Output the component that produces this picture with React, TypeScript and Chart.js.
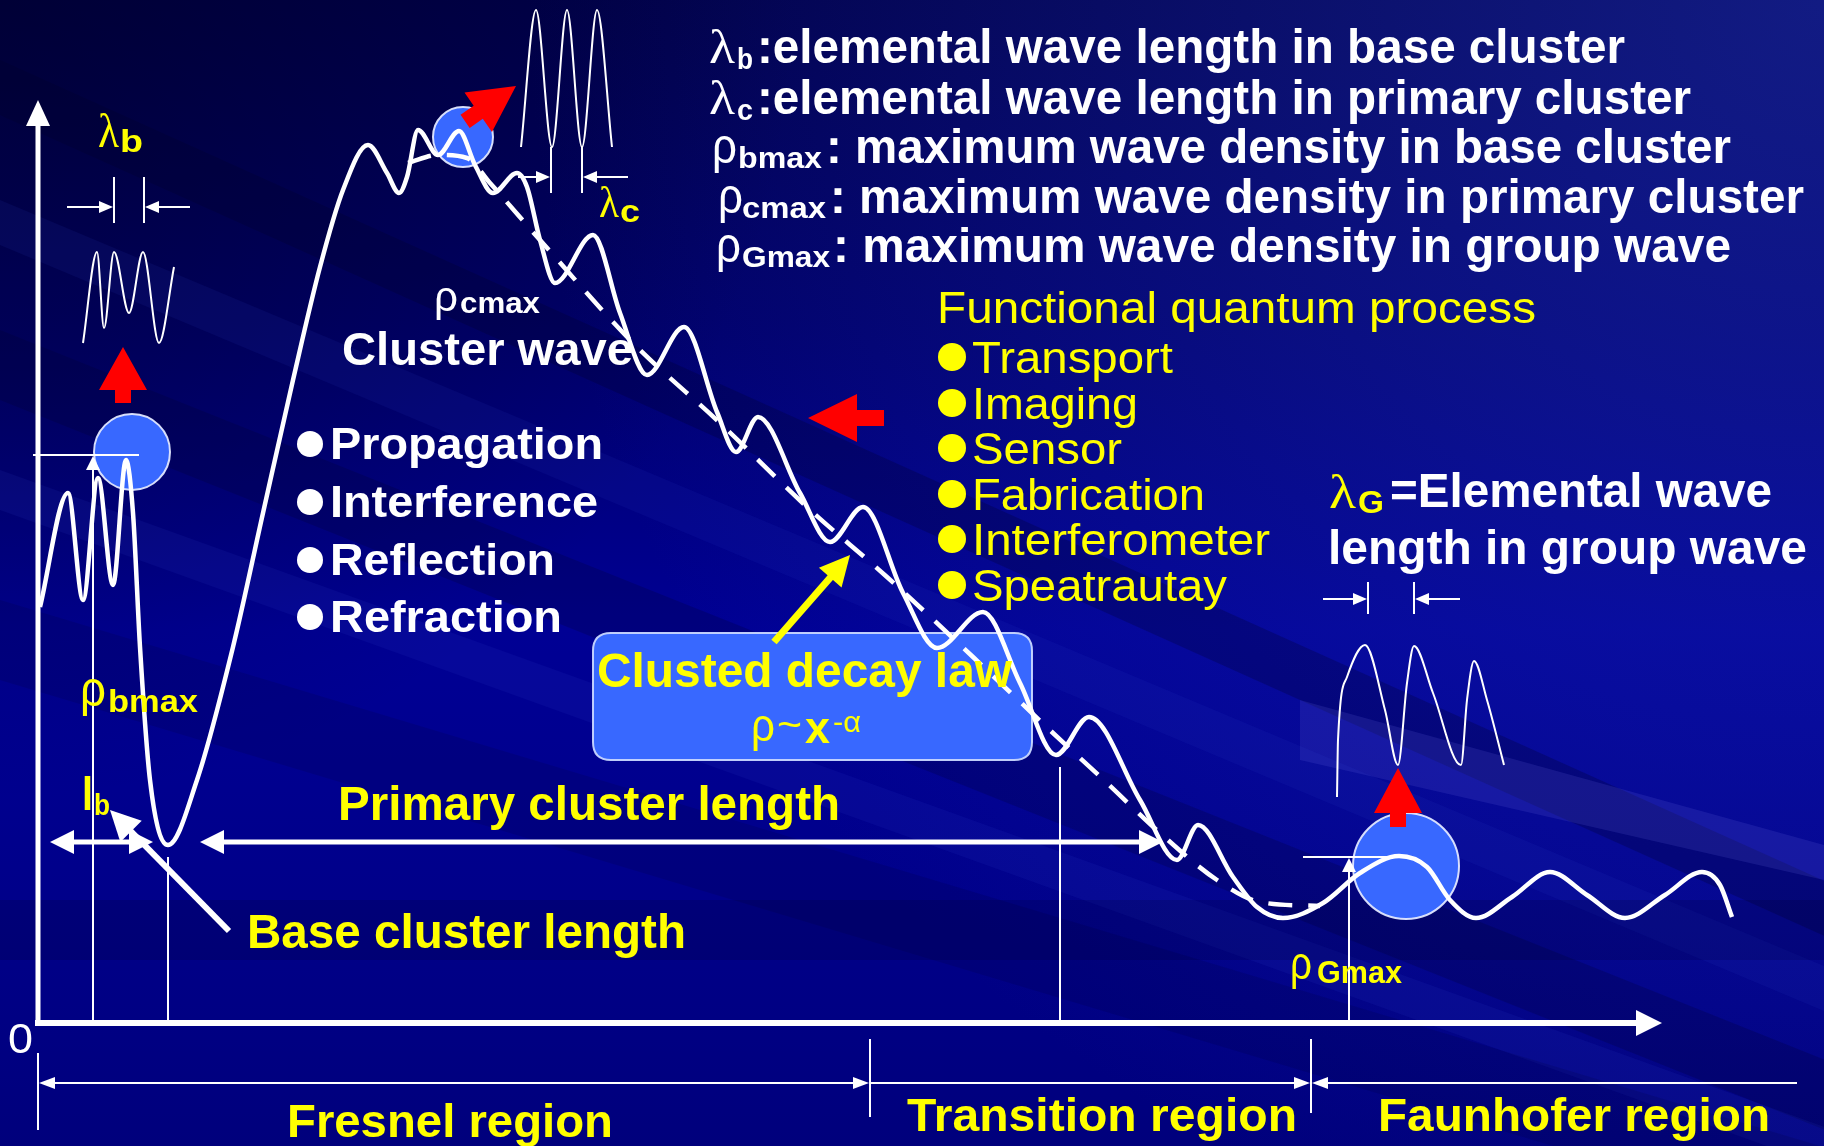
import React, { useEffect, useRef } from "react";
import { Chart, registerables } from "chart.js";

Chart.register(...registerables);

// ---- data (distance from origin, wave density) ----
const curveDistance = [2, 30, 45, 60, 75, 88, 95, 102, 112, 130, 159, 195, 225, 255, 282, 305, 330, 349, 361, 369, 380, 400, 421, 437, 455, 479, 489, 502, 517, 555, 582, 609, 646, 679, 698, 720, 762, 792, 825, 865, 899, 945, 982, 1018, 1051, 1102, 1139, 1160, 1195, 1219, 1245, 1285, 1322, 1361, 1389, 1412, 1438, 1474, 1512, 1549, 1587, 1627, 1664, 1682, 1694];
const curveDensity = [416, 530, 423, 545, 438, 563, 510, 376, 243, 178, 243, 376, 510, 643, 756, 833, 878, 850, 830, 846, 893, 868, 892, 858, 830, 850, 836, 783, 740, 788, 710, 648, 696, 611, 571, 606, 530, 481, 516, 430, 375, 411, 340, 268, 306, 223, 163, 198, 146, 116, 105, 120, 150, 167, 156, 123, 105, 126, 151, 128, 105, 128, 151, 138, 106];

const decayDistance = [370, 400, 429, 452, 502, 595, 682, 769, 849, 935, 1015, 1069, 1122, 1179, 1222, 1282];
const decayDensity = [860, 868, 865, 840, 783, 680, 600, 516, 446, 366, 290, 240, 190, 143, 121, 117];

const baseWaveX = [45, 59, 66, 76, 91, 105, 121, 136];
const baseWaveY = [680, 771, 695, 771, 710, 771, 680, 756];

const clusterWaveX = [483, 498, 514, 529, 544, 559, 574];
const clusterWaveY = [876, 1013, 876, 1013, 876, 1013, 876];

const groupWaveX = [1299, 1300, 1309, 1327, 1347, 1360, 1369, 1376, 1395, 1423, 1429, 1436, 1449, 1466];
const groupWaveY = [226, 283, 346, 378, 313, 258, 340, 377, 330, 258, 323, 362, 323, 258];

const processItems = ["Transport", "Imaging", "Sensor", "Fabrication", "Interferometer", "Speatrautay"];
const phenomena = ["Propagation", "Interference", "Reflection", "Refraction"];
const regionLabels = ["Fresnel region", "Transition region", "Faunhofer region"];

const zip = (xs: number[], ys: number[]) => xs.map((x, i) => ({ x, y: ys[i] }));

const SANS = '"Liberation Sans", Arial, Helvetica, sans-serif';
const SERIF = '"Liberation Serif", "Times New Roman", serif';
const WHITE = "#ffffff";
const YELLOW = "#ffff00";
const RED = "#ff0000";
const BLUE = "#3868ff";

// reference origin of the axes on the page (used to place annotations)
const OX = 38;
const OY = 1023;

const decorPlugin = {
  id: "decor",
  beforeDraw(chart: any) {
    const ctx = chart.ctx as CanvasRenderingContext2D;
    const W = chart.width, H = chart.height;
    ctx.save();
    const g = ctx.createLinearGradient(0, 0, 0, H);
    g.addColorStop(0, "#00004a");
    g.addColorStop(0.28, "#00006a");
    g.addColorStop(0.55, "#000094");
    g.addColorStop(0.78, "#00008a");
    g.addColorStop(1, "#00007c");
    ctx.fillStyle = g;
    ctx.fillRect(0, 0, W, H);
    const r1 = ctx.createRadialGradient(W, 0, 0, W, 0, 1300);
    r1.addColorStop(0, "rgba(40,60,200,0.45)");
    r1.addColorStop(1, "rgba(40,60,200,0)");
    ctx.fillStyle = r1;
    ctx.fillRect(0, 0, W, H);
    const r2 = ctx.createRadialGradient(0, 0, 0, 0, 0, 800);
    r2.addColorStop(0, "rgba(0,0,30,0.45)");
    r2.addColorStop(1, "rgba(0,0,30,0)");
    ctx.fillStyle = r2;
    ctx.fillRect(0, 0, W, H);
    const streaks: [number, number, number, string][] = [
      [60, 0.45, 55, "rgba(0,0,40,0.25)"],
      [200, 0.42, 45, "rgba(50,70,210,0.10)"],
      [330, 0.4, 70, "rgba(0,0,45,0.22)"],
      [470, 0.36, 40, "rgba(60,80,220,0.10)"],
      [600, 0.3, 80, "rgba(0,0,40,0.14)"],
      [900, 0.0, 60, "rgba(0,0,40,0.18)"],
    ];
    for (const [y0, s, t, c] of streaks) {
      ctx.fillStyle = c;
      ctx.beginPath();
      ctx.moveTo(0, y0);
      ctx.lineTo(W, y0 + W * s);
      ctx.lineTo(W, y0 + W * s + t);
      ctx.lineTo(0, y0 + t);
      ctx.closePath();
      ctx.fill();
    }
    ctx.fillStyle = "rgba(110,110,230,0.16)";
    ctx.beginPath();
    ctx.moveTo(1300, 700);
    ctx.lineTo(W, 845);
    ctx.lineTo(W, 880);
    ctx.lineTo(1300, 760);
    ctx.closePath();
    ctx.fill();
    ctx.restore();
  },
  beforeDatasetsDraw(chart: any) {
    const ctx = chart.ctx as CanvasRenderingContext2D;
    const xs = chart.scales.x, ys = chart.scales.y;
    const P = (px: number, py: number) => [xs.getPixelForValue(px - OX), ys.getPixelForValue(OY - py)];
    const L = (w: number) => xs.getPixelForValue(w) - xs.getPixelForValue(0);
    ctx.save();
    const circles: [number, number, number][] = [[132, 452, 38], [463, 137, 30], [1406, 866, 53]];
    for (const [cx, cy, r] of circles) {
      const [x, y] = P(cx, cy);
      ctx.beginPath();
      ctx.arc(x, y, L(r), 0, Math.PI * 2);
      ctx.fillStyle = BLUE;
      ctx.fill();
      ctx.lineWidth = 2;
      ctx.strokeStyle = "rgba(225,232,255,0.95)";
      ctx.stroke();
    }
    const [bx, by] = P(593, 633);
    const [bx2, by2] = P(1032, 760);
    const rr = 18;
    ctx.beginPath();
    ctx.moveTo(bx + rr, by);
    ctx.lineTo(bx2 - rr, by);
    ctx.quadraticCurveTo(bx2, by, bx2, by + rr);
    ctx.lineTo(bx2, by2 - rr);
    ctx.quadraticCurveTo(bx2, by2, bx2 - rr, by2);
    ctx.lineTo(bx + rr, by2);
    ctx.quadraticCurveTo(bx, by2, bx, by2 - rr);
    ctx.lineTo(bx, by + rr);
    ctx.quadraticCurveTo(bx, by, bx + rr, by);
    ctx.closePath();
    ctx.fillStyle = BLUE;
    ctx.fill();
    ctx.lineWidth = 2;
    ctx.strokeStyle = "rgba(200,215,255,0.95)";
    ctx.stroke();

    const line = (x1: number, y1: number, x2: number, y2: number, lw: number, color = WHITE) => {
      const [a, b] = P(x1, y1), [c, d] = P(x2, y2);
      ctx.beginPath();
      ctx.moveTo(a, b);
      ctx.lineTo(c, d);
      ctx.lineWidth = lw;
      ctx.strokeStyle = color;
      ctx.lineCap = "butt";
      ctx.stroke();
    };
    const tri = (tx: number, ty: number, dx: number, dy: number, len: number, half: number, color = WHITE) => {
      const [x, y] = P(tx, ty);
      const n = Math.hypot(dx, dy);
      const ux = dx / n, uy = dy / n;
      const bxp = x - ux * len, byp = y - uy * len;
      ctx.beginPath();
      ctx.moveTo(x, y);
      ctx.lineTo(bxp - uy * half, byp + ux * half);
      ctx.lineTo(bxp + uy * half, byp - ux * half);
      ctx.closePath();
      ctx.fillStyle = color;
      ctx.fill();
    };
    line(38, 1026, 38, 120, 5);
    tri(38, 100, 0, -1, 26, 12);
    line(35, 1023, 1640, 1023, 6);
    tri(1662, 1023, 1, 0, 26, 13);
    line(33, 455, 139, 455, 2);
    line(93, 1021, 93, 468, 2);
    tri(93, 456, 0, -1, 14, 7);
    line(168, 857, 168, 1021, 2);
    line(1060, 767, 1060, 1021, 2);
    line(1303, 857, 1398, 857, 2);
    line(1349, 1021, 1349, 870, 2);
    tri(1349, 858, 0, -1, 14, 7);
    ctx.restore();
  },
  afterDatasetsDraw(chart: any) {
    const ctx = chart.ctx as CanvasRenderingContext2D;
    const xs = chart.scales.x, ys = chart.scales.y;
    const P = (px: number, py: number) => [xs.getPixelForValue(px - OX), ys.getPixelForValue(OY - py)];
    const L = (w: number) => xs.getPixelForValue(w) - xs.getPixelForValue(0);
    ctx.save();
    const T = (s: string, x: number, y: number, size: number, color: string, bold: boolean, width?: number, family = SANS) => {
      const [cx, cy] = P(x, y);
      ctx.save();
      ctx.font = `${bold ? "bold " : ""}${size}px ${family}`;
      ctx.fillStyle = color;
      ctx.textAlign = "left";
      ctx.textBaseline = "alphabetic";
      ctx.translate(cx, cy);
      if (width) {
        const m = ctx.measureText(s).width;
        if (m > 0) ctx.scale(L(width) / m, 1);
      }
      ctx.fillText(s, 0, 0);
      ctx.restore();
    };
    const dot = (x: number, y: number, r: number, color: string) => {
      const [cx, cy] = P(x, y);
      ctx.beginPath();
      ctx.arc(cx, cy, L(r), 0, Math.PI * 2);
      ctx.fillStyle = color;
      ctx.fill();
    };
    const line = (x1: number, y1: number, x2: number, y2: number, lw: number, color = WHITE) => {
      const [a, b] = P(x1, y1), [c, d] = P(x2, y2);
      ctx.beginPath();
      ctx.moveTo(a, b);
      ctx.lineTo(c, d);
      ctx.lineWidth = lw;
      ctx.strokeStyle = color;
      ctx.lineCap = "butt";
      ctx.stroke();
    };
    const arrow = (x1: number, y1: number, x2: number, y2: number, lw: number, len: number, half: number, color: string, hs: boolean, he: boolean) => {
      const [a, b] = P(x1, y1), [c, d] = P(x2, y2);
      const n = Math.hypot(c - a, d - b);
      const ux = (c - a) / n, uy = (d - b) / n;
      const sa = hs ? len * 0.8 : 0, ea = he ? len * 0.8 : 0;
      ctx.beginPath();
      ctx.moveTo(a + ux * sa, b + uy * sa);
      ctx.lineTo(c - ux * ea, d - uy * ea);
      ctx.lineWidth = lw;
      ctx.strokeStyle = color;
      ctx.stroke();
      const head = (tx: number, ty: number, vx: number, vy: number) => {
        const bxp = tx - vx * len, byp = ty - vy * len;
        ctx.beginPath();
        ctx.moveTo(tx, ty);
        ctx.lineTo(bxp - vy * half, byp + vx * half);
        ctx.lineTo(bxp + vy * half, byp - vx * half);
        ctx.closePath();
        ctx.fillStyle = color;
        ctx.fill();
      };
      if (he) head(c, d, ux, uy);
      if (hs) head(a, b, -ux, -uy);
    };
    const block = (tx: number, ty: number, dx: number, dy: number, hl: number, hh: number, sl: number, sh: number, color: string) => {
      const [x, y] = P(tx, ty);
      const n = Math.hypot(dx, dy);
      const ux = dx / n, uy = dy / n;
      const nx = -uy, ny = ux;
      const bx = x - ux * hl, by = y - uy * hl;
      ctx.beginPath();
      ctx.moveTo(x, y);
      ctx.lineTo(bx + nx * hh, by + ny * hh);
      ctx.lineTo(bx + nx * sh, by + ny * sh);
      ctx.lineTo(bx + nx * sh - ux * sl, by + ny * sh - uy * sl);
      ctx.lineTo(bx - nx * sh - ux * sl, by - ny * sh - uy * sl);
      ctx.lineTo(bx - nx * sh, by - ny * sh);
      ctx.lineTo(bx - nx * hh, by - ny * hh);
      ctx.closePath();
      ctx.fillStyle = color;
      ctx.fill();
    };

    // ---- top right legend ----
    T("λ", 709, 63, 48, WHITE, false, 26, SERIF);
    T("b", 737, 69, 30, WHITE, true, 16);
    T(":elemental wave length in base cluster", 757, 63, 48, WHITE, true, 868);
    T("λ", 709, 114, 48, WHITE, false, 26, SERIF);
    T("c", 737, 120, 30, WHITE, true, 16);
    T(":elemental wave length in primary cluster", 757, 114, 48, WHITE, true, 934);
    T("ρ", 712, 163, 50, WHITE, false, 25);
    T("bmax", 738, 168, 29, WHITE, true, 84);
    T(": maximum wave density in base cluster", 826, 163, 48, WHITE, true, 905);
    T("ρ", 718, 213, 50, WHITE, false, 25);
    T("cmax", 742, 218, 29, WHITE, true, 84);
    T(": maximum wave density in primary cluster", 830, 213, 48, WHITE, true, 974);
    T("ρ", 716, 262, 50, WHITE, false, 25);
    T("Gmax", 742, 267, 29, WHITE, true, 88);
    T(": maximum wave density in group wave", 833, 262, 48, WHITE, true, 898);

    // ---- functional quantum process ----
    T("Functional quantum process", 937, 323, 45, YELLOW, false, 599);
    const procBase = [373, 419, 464, 510, 555, 601];
    const procEnd = [1173, 1138, 1122, 1205, 1270, 1227];
    processItems.forEach((s, i) => {
      dot(952, procBase[i] - 16, 14, YELLOW);
      T(s, 972, procBase[i], 45, YELLOW, false, procEnd[i] - 972);
    });

    // ---- phenomena ----
    const phBase = [459, 517, 575, 632];
    const phEnd = [603, 598, 555, 562];
    phenomena.forEach((s, i) => {
      dot(310, phBase[i] - 15, 13, WHITE);
      T(s, 330, phBase[i], 44, WHITE, true, phEnd[i] - 330);
    });

    // ---- cluster wave label ----
    T("ρ", 434, 311, 42, WHITE, false, 24);
    T("cmax", 460, 313, 30, WHITE, true, 80);
    T("Cluster wave", 342, 365, 46, WHITE, true, 291);

    // ---- lambda labels ----
    T("λ", 98, 147, 48, YELLOW, false, 21, SERIF);
    T("b", 120, 152, 31, YELLOW, true, 23);
    T("λ", 599, 217, 44, YELLOW, false, 20, SERIF);
    T("c", 620, 222, 31, YELLOW, true, 20);

    // ---- rho b max, l b ----
    T("ρ", 80, 706, 50, YELLOW, false, 26);
    T("bmax", 108, 712, 31, YELLOW, true, 90);
    T("l", 82, 810, 46, YELLOW, true, 11);
    T("b", 94, 815, 29, YELLOW, true, 16);

    // ---- lengths ----
    T("Primary cluster length", 338, 820, 48, YELLOW, true, 502);
    T("Base cluster length", 247, 948, 48, YELLOW, true, 439);

    // ---- decay law box text ----
    T("Clusted decay law", 597, 687, 48, YELLOW, true, 415);
    T("ρ", 751, 741, 46, YELLOW, false, 24);
    T("~", 777, 738, 40, YELLOW, false, 25);
    T("x", 805, 743, 44, YELLOW, true, 25);
    T("-α", 833, 732, 30, YELLOW, false, 28);

    // ---- group wave labels ----
    T("λ", 1329, 508, 48, YELLOW, false, 27, SERIF);
    T("G", 1358, 513, 31, YELLOW, true, 26);
    T("=Elemental wave", 1390, 507, 48, WHITE, true, 382);
    T("length in group wave", 1328, 564, 48, WHITE, true, 479);
    T("ρ", 1290, 979, 46, YELLOW, false, 22);
    T("Gmax", 1317, 983, 31, YELLOW, true, 85);

    // ---- origin ----
    T("0", 8, 1053, 43, WHITE, false, 25);

    // ---- region labels ----
    T(regionLabels[0], 287, 1137, 47, YELLOW, true, 326);
    T(regionLabels[1], 907, 1131, 47, YELLOW, true, 390);
    T(regionLabels[2], 1378, 1131, 47, YELLOW, true, 392);

    // ---- dimension markers (thin) ----
    line(114, 177, 114, 223, 2);
    line(144, 177, 144, 223, 2);
    arrow(67, 207, 113, 207, 2, 14, 6, WHITE, false, true);
    arrow(190, 207, 145, 207, 2, 14, 6, WHITE, false, true);
    line(551, 147, 551, 193, 2);
    line(582, 147, 582, 193, 2);
    arrow(518, 177, 550, 177, 2, 14, 6, WHITE, false, true);
    arrow(628, 177, 583, 177, 2, 14, 6, WHITE, false, true);
    line(1368, 582, 1368, 614, 2);
    line(1414, 582, 1414, 614, 2);
    arrow(1323, 599, 1367, 599, 2, 14, 6, WHITE, false, true);
    arrow(1460, 599, 1415, 599, 2, 14, 6, WHITE, false, true);

    // ---- region markers ----
    line(38, 1053, 38, 1130, 2);
    line(870, 1039, 870, 1117, 2);
    line(1311, 1039, 1311, 1113, 2);
    arrow(39, 1083, 869, 1083, 2, 16, 6, WHITE, true, true);
    arrow(871, 1083, 1310, 1083, 2, 16, 6, WHITE, false, true);
    arrow(1312, 1083, 1797, 1083, 2, 16, 6, WHITE, true, false);

    // ---- thick white arrows ----
    arrow(50, 842, 153, 842, 5, 24, 12, WHITE, true, true);
    arrow(200, 842, 1163, 842, 5, 24, 12, WHITE, true, true);
    arrow(229, 931, 110, 810, 6, 30, 15, WHITE, false, true);

    // ---- yellow arrow ----
    arrow(774, 642, 850, 555, 7, 30, 15, YELLOW, false, true);

    // ---- red block arrows ----
    block(123, 347, 0, -1, 43, 24, 13, 8, RED);
    block(516, 86, 0.82, -0.57, 46, 24, 16, 8, RED);
    block(808, 418, -1, 0, 49, 24, 27, 8, RED);
    block(1398, 768, 0, -1, 45, 24, 14, 8, RED);

    ctx.restore();
  },
};

export default function App() {
  const ref = useRef<HTMLCanvasElement | null>(null);
  useEffect(() => {
    document.body.style.margin = "0";
    document.body.style.overflow = "hidden";
    document.body.style.background = "#000080";
    const canvas = ref.current;
    if (!canvas) return;
    const thin = { borderColor: WHITE, borderWidth: 2, pointRadius: 0, fill: false, cubicInterpolationMode: "monotone" as const };
    const chart = new Chart(canvas, {
      type: "line",
      data: {
        datasets: [
          { label: "wave density", data: zip(curveDistance, curveDensity), borderColor: WHITE, borderWidth: 4.5, pointRadius: 0, fill: false, cubicInterpolationMode: "monotone" },
          { label: "decay law", data: zip(decayDistance, decayDensity), borderColor: WHITE, borderWidth: 4.5, borderDash: [24, 16], pointRadius: 0, fill: false, cubicInterpolationMode: "monotone" },
          { label: "base elemental wave", data: zip(baseWaveX, baseWaveY), ...thin },
          { label: "cluster elemental wave", data: zip(clusterWaveX, clusterWaveY), ...thin },
          { label: "group elemental wave", data: zip(groupWaveX, groupWaveY), ...thin },
        ],
      },
      options: {
        responsive: false,
        maintainAspectRatio: false,
        devicePixelRatio: 1,
        animation: false,
        layout: { padding: 0 },
        plugins: { legend: { display: false }, tooltip: { enabled: false } },
        scales: {
          x: { type: "linear", min: -OX, max: 1824 - OX, display: false },
          y: { type: "linear", min: OY - 1146, max: OY, display: false },
        },
      },
      plugins: [decorPlugin],
    });
    return () => chart.destroy();
  }, []);
  return (
    <div style={{ width: 1824, height: 1146 }}>
      <canvas ref={ref} width={1824} height={1146} style={{ display: "block", width: 1824, height: 1146 }} />
    </div>
  );
}
